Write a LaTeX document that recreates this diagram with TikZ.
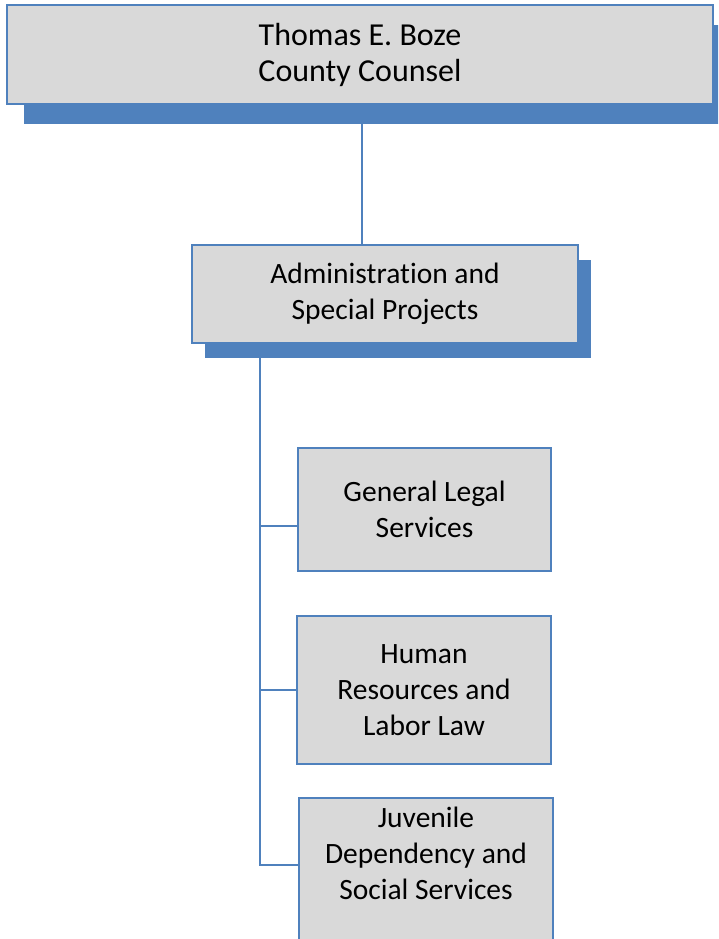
\documentclass[tikz,border=0pt]{standalone}
\usepackage{fontspec}
\setmainfont{Carlito}[Ligatures=NoCommon]
\usetikzlibrary{positioning,shadows}
\definecolor{orgblue}{RGB}{79,129,189}
\definecolor{orggray}{RGB}{217,217,217}
\pgfdeclarelayer{background}
\pgfsetlayers{background,main}
\tikzset{
  unitbox/.style={draw=orgblue, line width=2pt, fill=orggray, inner sep=0pt, align=center,
    font=\fontsize{29.5}{36}\selectfont},
  bigshadow/.style={drop shadow={shadow xshift=#1, shadow yshift=-#1*1.2, fill=orgblue, opacity=1}},
  link/.style={orgblue, line width=2pt},
}

\begin{document}
\begin{tikzpicture}[x=1pt,y=-1pt]
  \clip (0,0) rectangle (718,939);
  % head and admin
  \node[unitbox, bigshadow=17pt, minimum width=706pt, minimum height=99pt,
    font=\fontsize{32}{36}\selectfont] (counsel) at (360,54.5)
    {Thomas E. Boze\\County Counsel};
  \node[unitbox, bigshadow=12.5pt, minimum width=386pt, minimum height=98pt] (admin) at (385,294)
    {Administration and\\Special Projects};
  % divisions
  \node[unitbox, minimum width=253pt, minimum height=123pt] (legal) at (424.5,509.5)
    {General Legal\\Services};
  \node[unitbox, minimum width=254pt, minimum height=148pt] (hr) at (424,690)
    {Human\\Resources and\\Labor Law};
  \node[unitbox, minimum width=254pt, minimum height=148pt] (juv) at (426,872) {};
  \node[font=\fontsize{29.5}{36}\selectfont, align=center, inner sep=0pt] (juvtext) at (426,853)
    {Juvenile\\Dependency and\\Social Services};
  \coordinate (trunk) at (260,343);
  \begin{pgfonlayer}{background}
    \draw[link] ([xshift=2pt]counsel.south) -- ([xshift=2pt]counsel.south |- admin.north);
    \draw[link] (trunk) |- ([yshift=-16pt]legal.west);
    \draw[link] (trunk) |- (hr.west);
    \draw[link] (trunk) |- ([yshift=7pt]juv.west);
  \end{pgfonlayer}
\end{tikzpicture}
\end{document}
